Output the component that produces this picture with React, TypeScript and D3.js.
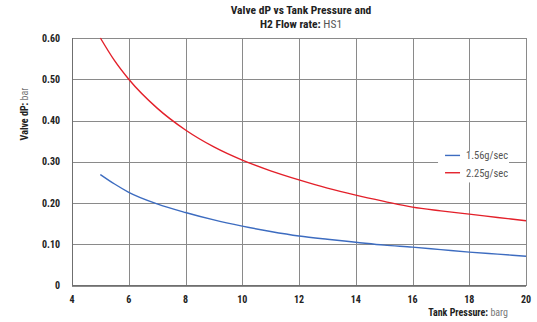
import * as d3 from 'd3';
import { useEffect, useRef } from 'react';

// Tank pressure (barg) sample points
const pressures = [5, 5.5, 6, 7, 8, 9, 10, 11, 12, 13, 14, 15, 16, 17, 18, 19, 20];
// Valve dP (bar) for each flow rate
const flow156 = [0.269, 0.246, 0.226, 0.198, 0.177, 0.159, 0.144, 0.131, 0.12, 0.112, 0.105, 0.098, 0.093, 0.087, 0.081, 0.076, 0.071];
const flow225 = [0.6, 0.545, 0.5, 0.43, 0.377, 0.336, 0.304, 0.278, 0.256, 0.236, 0.219, 0.204, 0.19, 0.181, 0.173, 0.165, 0.157];
const seriesNames = ['1.56g/sec', '2.25g/sec'];
const xTicks = [4, 6, 8, 10, 12, 14, 16, 18, 20];
const yTicks = [0, 0.1, 0.2, 0.3, 0.4, 0.5, 0.6];

const FONT = "'Roboto Condensed', 'Liberation Sans Narrow', 'DejaVu Sans Condensed', Roboto, sans-serif";

const App = () => {
    const ref = useRef<SVGSVGElement>(null);

    useEffect(() => {
        const width = 537;
        const height = 322;
        const margin = { top: 38, right: 11, bottom: 36.5, left: 72 };
        const w = width - margin.left - margin.right;
        const h = height - margin.top - margin.bottom;

        const root = d3.select(ref.current);
        root.selectAll('*').remove();
        root.append('rect').attr('width', width).attr('height', height).attr('fill', '#fff');

        const svg = root.append('g').attr('transform', `translate(${margin.left},${margin.top})`);

        const x = d3.scaleLinear().domain([4, 20]).range([0, w]);
        const y = d3.scaleLinear().domain([0, 0.6]).range([h, 0]);

        // Horizontal gridlines
        svg.append('g')
            .call(d3.axisLeft(y).tickValues(yTicks).tickSize(-w).tickFormat(() => ''))
            .call((g) => g.select('.domain').remove())
            .selectAll('line')
            .attr('stroke', '#8a8a8a')
            .attr('shape-rendering', 'crispEdges');

        // Vertical gridlines
        svg.append('g')
            .attr('transform', `translate(0,${h})`)
            .call(d3.axisBottom(x).tickValues(xTicks).tickSize(-h).tickFormat(() => ''))
            .call((g) => g.select('.domain').remove())
            .selectAll('line')
            .attr('stroke', '#8a8a8a')
            .attr('shape-rendering', 'crispEdges');

        // Axis lines
        svg.append('line').attr('x1', 0).attr('x2', 0).attr('y1', 0).attr('y2', h)
            .attr('stroke', '#6f6f6f').attr('shape-rendering', 'crispEdges');
        svg.append('line').attr('x1', 0).attr('x2', w).attr('y1', h).attr('y2', h)
            .attr('stroke', '#6f6f6f').attr('shape-rendering', 'crispEdges');

        // Tick labels
        svg.selectAll('.ylab')
            .data(yTicks)
            .enter()
            .append('text')
            .attr('x', -12)
            .attr('y', (d) => y(d) + 3.5)
            .attr('text-anchor', 'end')
            .style('font-family', FONT)
            .style('font-size', '10px')
            .style('font-weight', 'bold')
            .attr('fill', '#222')
            .text((d) => (d === 0 ? '0' : d.toFixed(2)));

        svg.selectAll('.xlab')
            .data(xTicks)
            .enter()
            .append('text')
            .attr('x', (d) => x(d))
            .attr('y', h + 17)
            .attr('text-anchor', 'middle')
            .style('font-family', FONT)
            .style('font-size', '10px')
            .style('font-weight', 'bold')
            .attr('fill', '#222')
            .text((d) => d);

        // Lines
        const line = d3.line<number>()
            .x((_, i) => x(pressures[i]))
            .y((d) => y(d))
            .curve(d3.curveMonotoneX);

        const colors = ['#3d6cc0', '#e3202a'];
        [flow156, flow225].forEach((s, i) => {
            svg.append('path')
                .datum(s)
                .attr('d', line)
                .attr('fill', 'none')
                .attr('stroke', colors[i])
                .attr('stroke-width', 1.4);
        });

        // Legend
        const legend = svg.append('g').attr('transform', `translate(${x(16.9)},${y(0.325)})`);
        legend.append('rect')
            .attr('x', 0)
            .attr('y', 0)
            .attr('width', 71)
            .attr('height', 31)
            .attr('fill', '#fff');
        seriesNames.forEach((name, i) => {
            legend.append('line')
                .attr('x1', 7)
                .attr('x2', 22)
                .attr('y1', 4 + i * 17.3)
                .attr('y2', 4 + i * 17.3)
                .attr('stroke', colors[i])
                .attr('stroke-width', 1.4);
            legend.append('text')
                .attr('x', 28)
                .attr('y', 8 + i * 17.3)
                .style('font-family', FONT)
                .style('font-size', '10.5px')
                .attr('fill', '#555')
                .text(name);
        });

        // Title
        const title = root.append('text')
            .attr('text-anchor', 'middle')
            .style('font-family', FONT)
            .style('font-size', '11.5px')
            .style('font-weight', 'bold')
            .attr('fill', '#222');
        title.append('tspan').attr('x', 301).attr('y', 14).text('Valve dP vs Tank Pressure and');
        title.append('tspan').attr('x', 301).attr('y', 28).text('H2 Flow rate: ');
        title.append('tspan').style('font-weight', 'normal').attr('fill', '#555').text('HS1');

        // Y axis title
        const yt = root.append('text')
            .attr('transform', 'translate(27.5,114) rotate(-90)')
            .attr('text-anchor', 'middle')
            .style('font-family', FONT)
            .style('font-size', '10px')
            .style('font-weight', 'bold')
            .attr('fill', '#222');
        yt.append('tspan').text('Valve dP: ');
        yt.append('tspan').style('font-weight', 'normal').attr('fill', '#777').text('bar');

        // X axis title
        const xt = root.append('text')
            .attr('x', 508)
            .attr('y', 316)
            .attr('text-anchor', 'end')
            .style('font-family', FONT)
            .style('font-size', '10px')
            .style('font-weight', 'bold')
            .attr('fill', '#222');
        xt.append('tspan').text('Tank Pressure: ');
        xt.append('tspan').style('font-weight', 'normal').attr('fill', '#777').text('barg');
    }, []);

    return (
        <svg
            ref={ref}
            width={537}
            height={322}
            style={{ position: 'absolute', left: 0, top: 0, display: 'block' }}
        />
    );
};

export default App;
